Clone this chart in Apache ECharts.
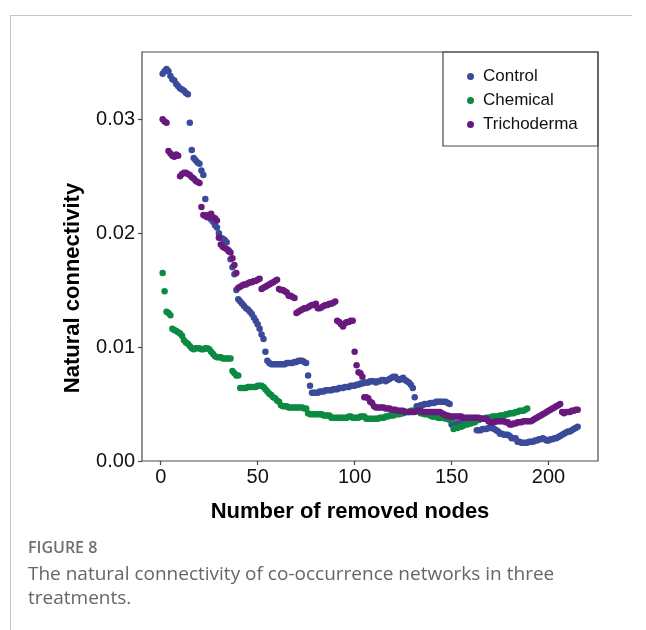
<!DOCTYPE html>
<html>
<head>
<meta charset="utf-8">
<script src="https://cdn.jsdelivr.net/npm/echarts@6/dist/echarts.min.js"></script>
<style>
html,body{margin:0;padding:0;background:#fff;}
#chart{width:646px;height:630px;}
</style>
</head>
<body>
<div id="chart"></div>
<script>
// Number of removed nodes starts at 1 for every series
const firstNode = 1;
const seriesNames = ['Control', 'Chemical', 'Trichoderma'];
const xTicks = [0, 50, 100, 150, 200];
const yTicks = [0, 0.01, 0.02, 0.03];

const controlValues = [
  0.0340, 0.0342, 0.0344, 0.0342, 0.0338, 0.0335, 0.0334, 0.0331, 0.0329, 0.0327,
  0.0326, 0.0325, 0.0323, 0.0322, 0.0297, 0.0273, 0.0266, 0.0264, 0.0262, 0.0261,
  0.0255, 0.0251, 0.0230, 0.0216, 0.0214, 0.0212, 0.0210, 0.0207, 0.0205, 0.0200,
  0.0196, 0.0195, 0.0194, 0.0192, 0.0185, 0.0177, 0.0170, 0.0164, 0.0150, 0.0142,
  0.0140, 0.0138, 0.0136, 0.0134, 0.0133, 0.0131, 0.0129, 0.0126, 0.0123, 0.0120,
  0.0116, 0.0111, 0.0107, 0.0096, 0.0088, 0.0086, 0.0085, 0.0085, 0.0085, 0.0085,
  0.0085, 0.0085, 0.0085, 0.0085, 0.0086, 0.0086, 0.0086, 0.0086, 0.0087, 0.0087,
  0.0088, 0.0088, 0.0088, 0.0087, 0.0086, 0.0075, 0.0066, 0.0060, 0.0060, 0.0060,
  0.0060, 0.0061, 0.0061, 0.0061, 0.0062, 0.0062, 0.0062, 0.0062, 0.0063, 0.0063,
  0.0063, 0.0064, 0.0064, 0.0064, 0.0065, 0.0065, 0.0065, 0.0066, 0.0066, 0.0066,
  0.0067, 0.0067, 0.0068, 0.0068, 0.0069, 0.0069, 0.0069, 0.0070, 0.0070, 0.0070,
  0.0069, 0.0070, 0.0070, 0.0071, 0.0071, 0.0070, 0.0071, 0.0072, 0.0073, 0.0074,
  0.0074, 0.0072, 0.0071, 0.0072, 0.0073, 0.0071, 0.0070, 0.0069, 0.0067, 0.0064,
  0.0056, 0.0048, 0.0048, 0.0049, 0.0049, 0.0050, 0.0050, 0.0050, 0.0051, 0.0051,
  0.0051, 0.0052, 0.0052, 0.0052, 0.0052, 0.0052, 0.0052, 0.0051, 0.0050, 0.0032,
  0.0032, 0.0033, 0.0033, 0.0033, 0.0034, 0.0034, 0.0034, 0.0035, 0.0035, 0.0035,
  0.0035, 0.0035, 0.0027, 0.0027, 0.0027, 0.0028, 0.0028, 0.0028, 0.0029, 0.0029,
  0.0029, 0.0028, 0.0027, 0.0026, 0.0024, 0.0024, 0.0023, 0.0023, 0.0023, 0.0022,
  0.0020, 0.0020, 0.0020, 0.0017, 0.0017, 0.0016, 0.0016, 0.0016, 0.0016, 0.0017,
  0.0017, 0.0017, 0.0018, 0.0018, 0.0019, 0.0019, 0.0020, 0.0019, 0.0018, 0.0018,
  0.0019, 0.0019, 0.0020, 0.0020, 0.0021, 0.0022, 0.0023, 0.0024, 0.0025, 0.0026,
  0.0026, 0.0027, 0.0028, 0.0029, 0.0030
];

const chemicalValues = [
  0.0165, 0.0149, 0.0131, 0.0130, 0.0128, 0.0116, 0.0115, 0.0114, 0.0113, 0.0112,
  0.0110, 0.0106, 0.0104, 0.0103, 0.0101, 0.0099, 0.0098, 0.0099, 0.0099, 0.0099,
  0.0098, 0.0098, 0.0099, 0.0099, 0.0098, 0.0096, 0.0094, 0.0092, 0.0091, 0.0091,
  0.0091, 0.0090, 0.0090, 0.0090, 0.0090, 0.0090, 0.0079, 0.0077, 0.0075, 0.0075,
  0.0064, 0.0064, 0.0064, 0.0064, 0.0065, 0.0065, 0.0065, 0.0065, 0.0065, 0.0066,
  0.0066, 0.0066, 0.0065, 0.0063, 0.0061, 0.0059, 0.0058, 0.0056, 0.0055, 0.0053,
  0.0052, 0.0049, 0.0048, 0.0048, 0.0048, 0.0047, 0.0047, 0.0047, 0.0047, 0.0047,
  0.0047, 0.0047, 0.0047, 0.0046, 0.0046, 0.0042, 0.0041, 0.0041, 0.0041, 0.0041,
  0.0041, 0.0041, 0.0041, 0.0040, 0.0040, 0.0040, 0.0040, 0.0038, 0.0038, 0.0038,
  0.0038, 0.0038, 0.0038, 0.0038, 0.0038, 0.0038, 0.0039, 0.0039, 0.0038, 0.0038,
  0.0038, 0.0038, 0.0039, 0.0039, 0.0039, 0.0037, 0.0037, 0.0037, 0.0037, 0.0037,
  0.0037, 0.0037, 0.0038, 0.0038, 0.0038, 0.0039, 0.0039, 0.0040, 0.0040, 0.0040,
  0.0041, 0.0041, 0.0041, 0.0042, 0.0042, 0.0043, 0.0043, 0.0043, 0.0044, 0.0044,
  0.0044, 0.0044, 0.0044, 0.0042, 0.0042, 0.0041, 0.0041, 0.0041, 0.0040, 0.0039,
  0.0039, 0.0039, 0.0038, 0.0038, 0.0038, 0.0038, 0.0037, 0.0037, 0.0036, 0.0036,
  0.0028, 0.0029, 0.0029, 0.0030, 0.0030, 0.0031, 0.0032, 0.0032, 0.0033, 0.0033,
  0.0034, 0.0034, 0.0036, 0.0036, 0.0037, 0.0037, 0.0037, 0.0038, 0.0038, 0.0038,
  0.0039, 0.0039, 0.0039, 0.0039, 0.0040, 0.0040, 0.0040, 0.0041, 0.0041, 0.0042,
  0.0042, 0.0042, 0.0043, 0.0043, 0.0044, 0.0044, 0.0044, 0.0045, 0.0046
];

const trichodermaValues = [
  0.0300, 0.0298, 0.0297, 0.0272, 0.0270, 0.0268, 0.0267, 0.0269, 0.0268, 0.0250,
  0.0252, 0.0253, 0.0253, 0.0252, 0.0251, 0.0249, 0.0248, 0.0246, 0.0245, 0.0244,
  0.0223, 0.0216, 0.0215, 0.0214, 0.0215, 0.0217, 0.0214, 0.0213, 0.0211, 0.0196,
  0.0190, 0.0188, 0.0187, 0.0186, 0.0184, 0.0183, 0.0178, 0.0172, 0.0165, 0.0152,
  0.0153, 0.0154, 0.0155, 0.0155, 0.0156, 0.0157, 0.0157, 0.0158, 0.0158, 0.0159,
  0.0160, 0.0151, 0.0152, 0.0153, 0.0154, 0.0155, 0.0156, 0.0157, 0.0158, 0.0159,
  0.0151, 0.0150, 0.0150, 0.0149, 0.0148, 0.0145, 0.0145, 0.0144, 0.0143, 0.0130,
  0.0131, 0.0132, 0.0133, 0.0134, 0.0134, 0.0135, 0.0136, 0.0137, 0.0137, 0.0138,
  0.0134, 0.0134, 0.0135, 0.0136, 0.0137, 0.0137, 0.0138, 0.0138, 0.0139, 0.0140,
  0.0123, 0.0122, 0.0120, 0.0118, 0.0121, 0.0122, 0.0122, 0.0123, 0.0123, 0.0096,
  0.0084, 0.0078, 0.0077, 0.0074, 0.0056, 0.0056, 0.0055, 0.0052, 0.0051, 0.0048,
  0.0047, 0.0047, 0.0047, 0.0047, 0.0047, 0.0046, 0.0046, 0.0046, 0.0045, 0.0045,
  0.0045, 0.0044, 0.0044, 0.0044, 0.0044, 0.0043, 0.0043, 0.0043, 0.0043, 0.0043,
  0.0043, 0.0044, 0.0044, 0.0044, 0.0043, 0.0043, 0.0043, 0.0043, 0.0043, 0.0043,
  0.0043, 0.0043, 0.0043, 0.0043, 0.0042, 0.0041, 0.0040, 0.0040, 0.0039, 0.0039,
  0.0039, 0.0039, 0.0039, 0.0039, 0.0039, 0.0038, 0.0038, 0.0038, 0.0038, 0.0038,
  0.0038, 0.0038, 0.0038, 0.0038, 0.0037, 0.0037, 0.0037, 0.0037, 0.0035, 0.0034,
  0.0034, 0.0034, 0.0035, 0.0035, 0.0035, 0.0035, 0.0035, 0.0034, 0.0034, 0.0032,
  0.0032, 0.0033, 0.0033, 0.0034, 0.0034, 0.0034, 0.0035, 0.0035, 0.0035, 0.0035,
  0.0035, 0.0036, 0.0037, 0.0038, 0.0039, 0.0040, 0.0041, 0.0042, 0.0043, 0.0044,
  0.0045, 0.0046, 0.0047, 0.0048, 0.0049, 0.0050, 0.0043, 0.0042, 0.0043, 0.0043,
  0.0043, 0.0044, 0.0044, 0.0045, 0.0045
];

const seriesColors = ['#3B4B99', '#0C8A42', '#69197E'];
const seriesValues = [controlValues, chemicalValues, trichodermaValues];

const toPoints = vals => vals.map((v, i) => [i + firstNode, v]);

const AXIS_COLOR = '#4a4a4a';
const FONT = '"Liberation Sans", Arial, Helvetica, sans-serif';
const CAPTION_FONT = '"Open Sans", Lato, sans-serif';

const chart = echarts.init(document.getElementById('chart'), null, {renderer: 'canvas'});
chart.setOption({
  backgroundColor: '#ffffff',
  animation: false,
  grid: {
    left: 142, top: 52, right: 48, bottom: 169,
    show: true, borderColor: AXIS_COLOR, borderWidth: 1.2, backgroundColor: 'transparent'
  },
  xAxis: {
    type: 'value', min: -9.65, max: 225.5,
    axisLine: {show: false, onZero: false},
    axisTick: {show: true, length: 4, inside: false, customValues: xTicks, lineStyle: {color: AXIS_COLOR, width: 1.2}},
    axisLabel: {customValues: xTicks, color: '#111', fontFamily: FONT, fontSize: 20, margin: 6},
    splitLine: {show: false},
    name: 'Number of removed nodes', nameLocation: 'middle', nameGap: 40,
    nameTextStyle: {fontFamily: FONT, fontSize: 22, fontWeight: 'bold', color: '#000', padding: [0, 40, 0, 0]}
  },
  yAxis: {
    type: 'value', min: 0, max: 0.0359,
    axisLine: {show: false, onZero: false},
    axisTick: {show: true, length: 4, inside: false, customValues: yTicks, lineStyle: {color: AXIS_COLOR, width: 1.2}},
    axisLabel: {customValues: yTicks, color: '#111', fontFamily: FONT, fontSize: 20, margin: 7,
      formatter: v => v.toFixed(2)},
    splitLine: {show: false}
  },
  legend: {
    orient: 'vertical', left: 462, top: 63,
    icon: 'circle', itemWidth: 7, itemHeight: 7, itemGap: 7,
    textStyle: {fontFamily: FONT, fontSize: 17, color: '#111', lineHeight: 17, padding: [0, 0, 0, 4]},
    data: seriesNames
  },
  series: seriesNames.map((name, k) => ({
    name: name, type: 'scatter', data: toPoints(seriesValues[k]),
    symbol: 'circle', symbolSize: 6.5, silent: true,
    itemStyle: {color: seriesColors[k], opacity: 1}
  })),
  graphic: [
    {type: 'line', shape: {x1: 10, y1: 15.5, x2: 632, y2: 15.5}, style: {stroke: '#c4c4c4', lineWidth: 1}, silent: true},
    {type: 'line', shape: {x1: 10.5, y1: 15, x2: 10.5, y2: 630}, style: {stroke: '#c4c4c4', lineWidth: 1}, silent: true},
    {type: 'rect', shape: {x: 443, y: 52, width: 155, height: 94}, style: {fill: 'none', stroke: AXIS_COLOR, lineWidth: 1.2}, silent: true},
    {type: 'text', x: 72.5, y: 288, rotation: Math.PI / 2, silent: true,
      style: {text: 'Natural connectivity', fontFamily: FONT, fontSize: 22, fontWeight: 'bold', fill: '#000', textAlign: 'center', textVerticalAlign: 'middle'}},
    {type: 'text', x: 28, y: 548, silent: true,
      style: {text: 'FIGURE 8', fontFamily: CAPTION_FONT, fontSize: 16, fontWeight: 600, fill: '#707070', textVerticalAlign: 'middle'}},
    {type: 'text', x: 28, y: 575, silent: true,
      style: {text: 'The natural connectivity of co-occurrence networks in three', fontFamily: CAPTION_FONT, fontSize: 19, fill: '#666666', textVerticalAlign: 'middle'}},
    {type: 'text', x: 28, y: 599, silent: true,
      style: {text: 'treatments.', fontFamily: CAPTION_FONT, fontSize: 19, fill: '#666666', textVerticalAlign: 'middle'}}
  ]
});
</script>
</body>
</html>
